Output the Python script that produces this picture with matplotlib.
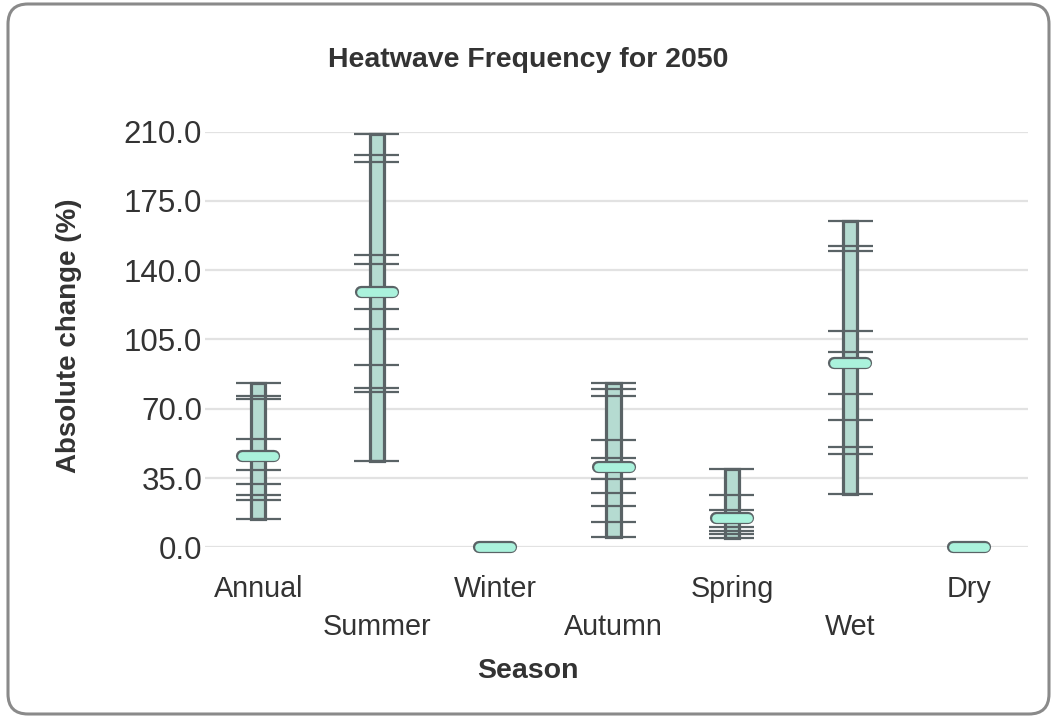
import matplotlib
matplotlib.use("Agg")
import matplotlib.pyplot as plt
import matplotlib.patheffects as pe
from matplotlib.patches import FancyBboxPatch
from matplotlib.transforms import IdentityTransform

plt.rcParams['font.family'] = ['Liberation Sans', 'DejaVu Sans']

# data
seasons = ['Annual', 'Summer', 'Winter', 'Autumn', 'Spring', 'Wet', 'Dry']
medians = [46.1, 129.1, 0.0, 40.7, 14.6, 92.9, 0.0]
annual = [83.1, 76.7, 75.1, 54.5, 39.0, 31.8, 26.2, 23.9, 14.1]
summer = [209.0, 198.4, 194.7, 147.9, 142.9, 120.6, 110.4, 91.9, 80.4, 78.6, 43.6]
winter = []
autumn = [82.8, 79.8, 76.7, 54.0, 45.3, 34.7, 27.3, 20.9, 12.8, 5.2]
spring = [39.4, 26.4, 18.7, 10.3, 8.2, 6.9, 4.9]
wet = [164.7, 152.1, 149.6, 109.2, 98.8, 77.6, 64.3, 50.8, 46.9, 26.8]
dry = []
models = [annual, summer, winter, autumn, spring, wet, dry]
yticks = [0, 35, 70, 105, 140, 175, 210]

bar_fill = '#b5dbd1'
pill_fill = '#aaf2dc'
dark = '#5a6366'
txt = '#333333'

fig = plt.figure(figsize=(10.53, 7.19), dpi=100)
ax = fig.add_axes([205/1053, 1 - 547.3/719, 823/1053, 415.6/719])

for i, vals in enumerate(models):
    if vals:
        lo, hi = min(vals), max(vals)
        ax.bar(i, hi - lo, bottom=lo, width=0.12, color=bar_fill,
               edgecolor=dark, linewidth=2.3, zorder=3, clip_on=False)
        ax.hlines(vals, i - 0.19, i + 0.19, color=dark, linewidth=1.6,
                  zorder=4, clip_on=False)
    ax.plot([i - 0.135, i + 0.135], [medians[i], medians[i]], color=pill_fill,
            linewidth=6.3, solid_capstyle='round', zorder=5, clip_on=False,
            path_effects=[pe.Stroke(linewidth=8.8, foreground=dark),
                          pe.Normal()])

ax.set_xlim(-0.45, 6.5)
ax.set_ylim(0, 210)
ax.set_yticks(yticks)
ax.set_yticklabels(['%.1f' % v for v in yticks])
ax.set_xticks(range(len(seasons)))
ax.set_xticklabels(seasons)
for k, lab in enumerate(ax.get_xticklabels()):
    if k % 2 == 1:
        lab.set_y(-0.0914)

ax.grid(axis='y', color='#e2e2e2', linewidth=1.6, zorder=0)
ax.grid(axis='x', visible=False)
for s in ax.spines.values():
    s.set_visible(False)
ax.tick_params(axis='y', length=0, pad=2, labelsize=22.5, labelcolor=txt)
ax.tick_params(axis='x', length=0, pad=20, labelsize=20.7, labelcolor=txt)

ax.set_ylabel('Absolute change (%)', fontsize=20, fontweight='bold', color=txt)
ax.yaxis.set_label_coords(-0.15, 0.508)
ax.set_xlabel('Season', fontsize=20.5, fontweight='bold', color=txt)
ax.xaxis.set_label_coords(0.392, -0.266)

fig.text(528/1053, 1 - 60/719, 'Heatwave Frequency for 2050', ha='center',
         va='center', fontsize=20.5, fontweight='bold', color=txt)

frame = FancyBboxPatch((8, 5), 1041, 710, boxstyle='round,pad=0,rounding_size=20',
                       transform=IdentityTransform(), facecolor='none',
                       edgecolor='#8a8a8a', linewidth=2.2)
fig.add_artist(frame)

fig.savefig('out.png', dpi=100)
